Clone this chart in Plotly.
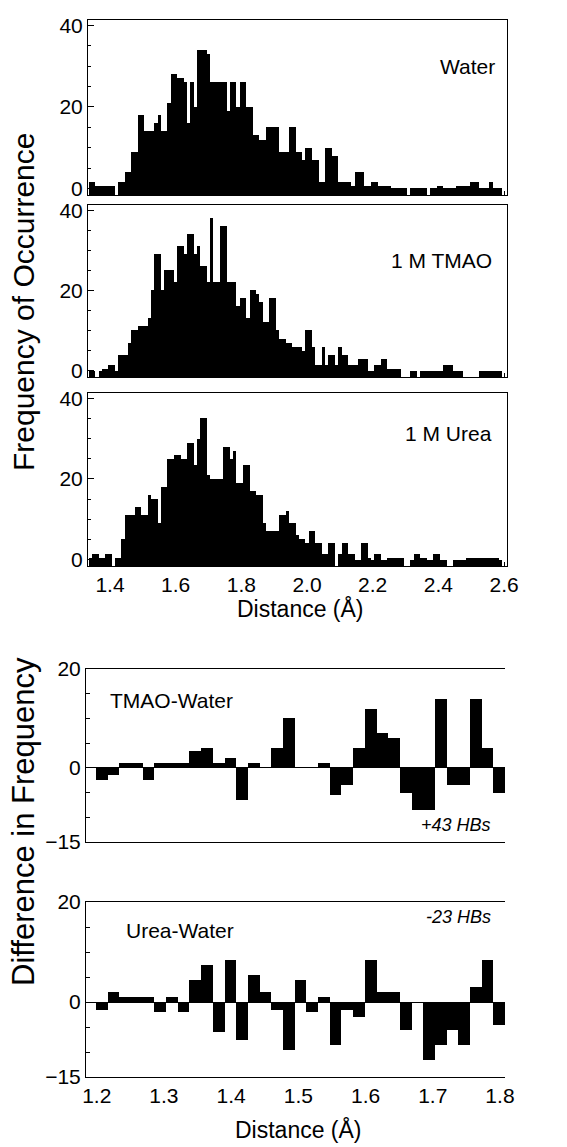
import plotly.graph_objects as go

# ---------------- data ----------------
# histogram bin centres (Å), bin width 0.01
hist_distance = [1.34, 1.35, 1.36, 1.37, 1.38, 1.39, 1.40, 1.41, 1.42, 1.43,
                 1.44, 1.45, 1.46, 1.47, 1.48, 1.49, 1.50, 1.51, 1.52, 1.53,
                 1.54, 1.55, 1.56, 1.57, 1.58, 1.59, 1.60, 1.61, 1.62, 1.63,
                 1.64, 1.65, 1.66, 1.67, 1.68, 1.69, 1.70, 1.71, 1.72, 1.73,
                 1.74, 1.75, 1.76, 1.77, 1.78, 1.79, 1.80, 1.81, 1.82, 1.83,
                 1.84, 1.85, 1.86, 1.87, 1.88, 1.89, 1.90, 1.91, 1.92, 1.93,
                 1.94, 1.95, 1.96, 1.97, 1.98, 1.99, 2.00, 2.01, 2.02, 2.03,
                 2.04, 2.05, 2.06, 2.07, 2.08, 2.09, 2.10, 2.11, 2.12, 2.13,
                 2.14, 2.15, 2.16, 2.17, 2.18, 2.19, 2.20, 2.21, 2.22, 2.23,
                 2.24, 2.25, 2.26, 2.27, 2.28, 2.29, 2.30, 2.31, 2.32, 2.33,
                 2.34, 2.35, 2.36, 2.37, 2.38, 2.39, 2.40, 2.41, 2.42, 2.43,
                 2.44, 2.45, 2.46, 2.47, 2.48, 2.49, 2.50, 2.51, 2.52, 2.53,
                 2.54, 2.55, 2.56, 2.57, 2.58, 2.59]

# None = empty bin (no bar drawn)
water = [1.5, 1.5, 0.5, 0.5, 0.5, 0.5, 0.5, 0.5, None, 1.5,
         1.5, 4, 4, 9, 9, 18, 18, 14, 14, 14,
         16, 18, 14, 14, 21, 28, 28, 27, 27, 26,
         16, 26, 20, 34, 34, 34, 33, 26, 26, 26,
         26, 26, 19, 26, 26, 20, 26, 26, 20, 20,
         13, 13, 12, 12, 15, 15, 15, 15, 9, 9,
         9, 15, 15, 9, 9, 7, 10, 10, 7, 7,
         1.5, 1.5, 10, 10, 8, 8, 1.5, 1.5, 1.5, 1.5,
         0.5, 4, 4, 4, 0.5, 0.5, 1.5, 1.5, 0.5, 0.5,
         0.5, 0.5, 0, 0, 0, 0, 0, None, 0, 0,
         0, 0, 0, None, 0, 0, 0.5, 0.5, 0, 0,
         0, 0, 0.5, 0.5, 0.5, 0.5, 1.5, 1.5, 1.5, 0,
         0, 0, 1.5, 0, 0, 0]

tmao = [0, 0, None, 0, 0.5, 0.5, 1.5, 1.5, 0, 4,
        4, 4, 7, 10, 10, 11, 11, 11, 13, 20,
        29, 29, 20, 25, 25, 25, 22, 31, 31, 29,
        34, 34, 29, 31, 26, 26, 22, 38, 22, 22,
        36, 36, 22, 22, 22, 16, 18, 18, 13, 20,
        20, 19, 17, 12, 12, 18, 18, 10, 8, 8,
        7, 7, 6, 6, 6, 5, 10, 10, 6, 1.5,
        1.5, 6, 1.5, 4, 4, 1.5, 6, 4, 4, 1.5,
        1.5, 1.5, 3, 3, 3, 0, 0, 1.5, 1.5, 3,
        3, 0.5, 0.5, 0.5, 0.5, None, None, None, 0, 0,
        None, 0, 0, 0, 0, 0, 0, 0, 1.5, 1.5,
        1.5, 0, 0, 0, None, None, None, None, None, 0,
        0, 0, 0, 0, 0, 0]

urea = [0.5, 1.5, 1.5, 0.5, 0.5, 1.5, 1.5, None, 0.5, 0.5,
        5, 11, 11, 11, 13, 13, 11, 11, 16, 15,
        15, 9, 18, 18, 25, 25, 26, 26, 25, 25,
        29, 29, 23.5, 30, 35, 35, 21, 20, 20, 20,
        20, 28, 28, 25, 27, 19, 19, 23.5, 23.5, 17,
        17, 16, 16, 9, 7, 7, 7, 7, 11, 11,
        12, 9, 9, 6, 5, 5, 4, 7, 7, 4,
        4, 1.5, 1.5, 4, 4, None, 1.5, 4, 4, 1.5,
        1.5, 0, 0, 4, 4, 0.5, 0, 1.5, 1.5, 0,
        0, 0.5, 0.5, 0.5, 0.5, 0.5, None, None, 0, 1.5,
        1.5, 0.5, 0.5, 0, 0, 1.5, 1.5, 0, 0, None,
        None, 0, 0, 0, 0, 0.5, 0.5, 0.5, 0.5, 0.5,
        0.5, 0.5, 0.5, 0.5, 0.5, 0]

# difference histograms
diff_distance = [1.2076, 1.2250, 1.2424, 1.2598, 1.2772, 1.2946, 1.3119,
                 1.3293, 1.3467, 1.3641, 1.3815, 1.3989, 1.4163, 1.4337,
                 1.4511, 1.4685, 1.4859, 1.5033, 1.5207, 1.5380, 1.5554,
                 1.5728, 1.5902, 1.6076, 1.6250, 1.6424, 1.6598, 1.6772,
                 1.6946, 1.7120, 1.7293, 1.7467, 1.7641, 1.7815, 1.7989]

tmao_minus_water = [-2.5, -1.5, 1, 1, -2.5, 1, 1, 1, 3.5, 4,
                    1, 2, -6.5, 1, 0, 4, 10, 0, 0, 1,
                    -5.5, -3.5, 4, 12, 7, 6, -5, -8.5, -8.5, 14,
                    -3.5, -3.5, 14, 4, -5]

urea_minus_water = [-1.5, 2, 1, 1, 1, -2, 1, -2, 4.5, 7.5,
                    -6, 8.5, -7.5, 5.5, 2, -1.5, -9.5, 4.5, -2, 1,
                    -8.5, -1.5, -3, 8.5, 2, 2, -5.5, 0, -11.5, -8.5,
                    -5.5, -8.5, 3, 8.5, -4.5]

hist_ticks = [1.4, 1.6, 1.8, 2.0, 2.2, 2.4, 2.6]
diff_ticks = [1.2, 1.3, 1.4, 1.5, 1.6, 1.7, 1.8]

# ---------------- figure ----------------
W, H = 567, 1147
FONT = "Liberation Sans, Arial, Helvetica, sans-serif"
HIST_FLOOR = -1.6   # bars of the histograms rise from the bottom of the frame
HIST_TOP = 41.3


def ydom(top_px, bot_px):
    return [1 - bot_px / H, 1 - top_px / H]


hist_xdom = [88 / W, 507 / W]
diff_xdom = [86 / W, 505 / W]

fig = go.Figure()

for ys, xa, ya in [(water, "x", "y"), (tmao, "x2", "y2"), (urea, "x3", "y3")]:
    heights = [None if v is None else v - HIST_FLOOR for v in ys]
    fig.add_trace(go.Bar(x=hist_distance, y=heights, base=HIST_FLOOR, width=0.01,
                         customdata=ys, hovertemplate="%{x}: %{customdata}<extra></extra>",
                         marker=dict(color="black", line=dict(width=0)),
                         xaxis=xa, yaxis=ya, showlegend=False))

for ys, xa, ya in [(tmao_minus_water, "x4", "y4"), (urea_minus_water, "x5", "y5")]:
    fig.add_trace(go.Bar(x=diff_distance, y=ys, width=0.0174,
                         marker=dict(color="black", line=dict(width=0)),
                         xaxis=xa, yaxis=ya, showlegend=False))

axis_line = dict(showline=True, linecolor="black", linewidth=1, showgrid=False,
                 zeroline=False, automargin=False)
tickfont = dict(family=FONT, size=21, color="black")

hist_y = dict(range=[HIST_FLOOR, HIST_TOP], tickvals=[0, 20, 40], ticks="inside", ticklen=6,
              tickcolor="black",
              minor=dict(dtick=5, tick0=0, ticks="inside", ticklen=3, tickcolor="black"),
              mirror=True, tickfont=tickfont, **axis_line)
hist_x = dict(range=[1.333, 2.609], tickvals=hist_ticks, ticks="inside", ticklen=4,
              tickcolor="black", mirror=True, tickformat=".1f", tickfont=tickfont, **axis_line)

diff_y = dict(range=[-15, 20], tickvals=[-15, 0, 20], ticks="inside", ticklen=6, tickcolor="black",
              minor=dict(dtick=5, tick0=0, ticks="inside", ticklen=4, tickcolor="black"),
              showline=True, linecolor="black", linewidth=1, showgrid=False, mirror=False,
              zeroline=True, zerolinecolor="black", zerolinewidth=1, tickfont=tickfont,
              automargin=False)
diff_x = dict(range=[1.184, 1.8075], tickvals=diff_ticks, ticks="", mirror=True,
              tickformat=".1f", tickfont=tickfont, **axis_line)

fig.update_layout(
    width=W, height=H, margin=dict(l=0, r=0, t=0, b=0, autoexpand=False),
    plot_bgcolor="white", paper_bgcolor="white", bargap=0,
    font=dict(family=FONT, color="black"),
    xaxis=dict(domain=hist_xdom, anchor="y", showticklabels=False, **hist_x),
    yaxis=dict(domain=ydom(20, 195), anchor="x", **hist_y),
    xaxis2=dict(domain=hist_xdom, anchor="y2", showticklabels=False, **hist_x),
    yaxis2=dict(domain=ydom(205, 377), anchor="x2", **hist_y),
    xaxis3=dict(domain=hist_xdom, anchor="y3", showticklabels=True, **hist_x),
    yaxis3=dict(domain=ydom(393, 566), anchor="x3", **hist_y),
    xaxis4=dict(domain=diff_xdom, anchor="y4", showticklabels=False, **diff_x),
    yaxis4=dict(domain=ydom(669, 842), anchor="x4", **diff_y),
    xaxis5=dict(domain=diff_xdom, anchor="y5", showticklabels=True, **diff_x),
    yaxis5=dict(domain=ydom(902, 1077), anchor="x5", **diff_y),
)


def ann(text, xpx, ypx, xanchor="center", size=20, italic=False, angle=0):
    t = f"<i>{text}</i>" if italic else text
    fig.add_annotation(text=t, x=xpx / W, y=1 - ypx / H, xref="paper", yref="paper",
                       xanchor=xanchor, yanchor="middle", showarrow=False, textangle=angle,
                       font=dict(family=FONT, size=size, color="black"))


ann("Water", 497, 67, "right", 21)
ann("1 M TMAO", 494, 260, "right", 21)
ann("1 M Urea", 494, 433, "right", 21)
ann("TMAO-Water", 108, 700, "left", 21)
ann("+43 HBs", 493, 825, "right", 18, italic=True)
ann("Urea-Water", 124, 930, "left", 21)
ann("-23 HBs", 493, 917, "right", 18, italic=True)
ann("Frequency of Occurrence", 23, 302, "center", 30, angle=-90)
ann("Difference in Frequency", 23, 822, "center", 31, angle=-90)
ann("Distance (Å)", 300, 608, "center", 23)
ann("Distance (Å)", 298, 1129, "center", 23)

# remove the browser's default 8px page margin so the figure fills the window exactly
fig.write_html("out.html",
               config={"displayModeBar": False},
               post_script="document.body.style.margin='0px';"
                           "document.body.style.overflow='hidden';")
